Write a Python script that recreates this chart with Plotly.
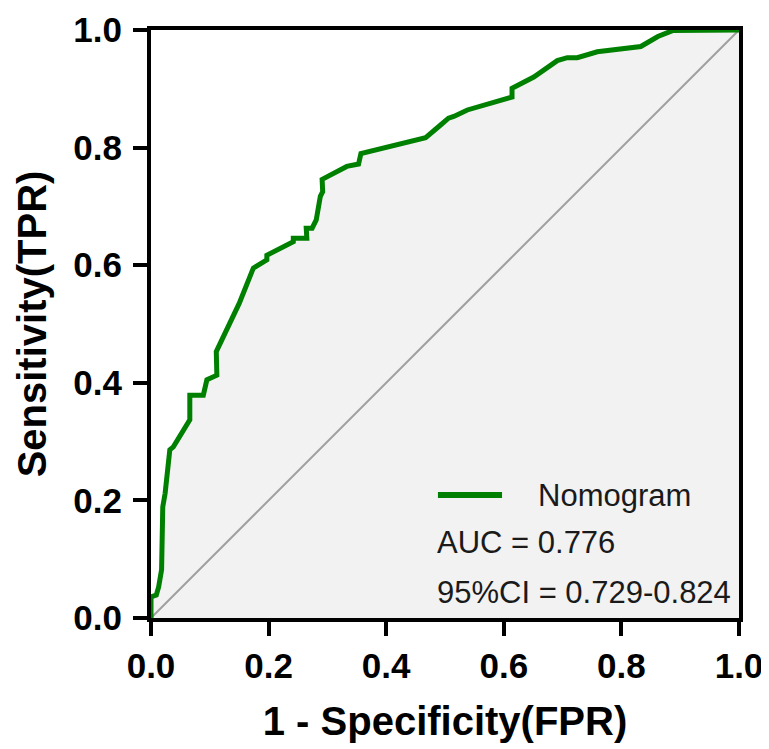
import plotly.graph_objects as go

# ROC curve
fpr = [0, 0, 0.009, 0.013, 0.018, 0.020, 0.024, 0.032, 0.038, 0.066, 0.066, 0.089, 0.095,
       0.112, 0.111, 0.118, 0.150, 0.174, 0.197, 0.197, 0.242, 0.242, 0.265, 0.264, 0.274,
       0.281, 0.285, 0.288, 0.292, 0.291, 0.333, 0.353, 0.357, 0.467, 0.492, 0.506, 0.515,
       0.538, 0.614, 0.614, 0.651, 0.691, 0.708, 0.725, 0.759, 0.833, 0.862, 0.887, 1.0]
tpr = [0, 0.036, 0.039, 0.053, 0.082, 0.189, 0.212, 0.286, 0.291, 0.337, 0.379, 0.379, 0.405,
       0.413, 0.453, 0.467, 0.535, 0.595, 0.609, 0.617, 0.640, 0.646, 0.646, 0.663, 0.663,
       0.677, 0.700, 0.717, 0.725, 0.746, 0.768, 0.772, 0.790, 0.817, 0.838, 0.850, 0.853,
       0.864, 0.886, 0.901, 0.920, 0.948, 0.953, 0.953, 0.963, 0.972, 0.989, 0.999, 1.0]
ref_x = [0, 1]
ref_y = [0, 1]
series_name = "Nomogram"
auc_text = "AUC = 0.776"
ci_text = "95%CI = 0.729-0.824"
tick_vals = [0, 0.2, 0.4, 0.6, 0.8, 1.0]
tick_text = ["0.0", "0.2", "0.4", "0.6", "0.8", "1.0"]

GREEN = "#008000"
FONT = "Liberation Sans, Arial, sans-serif"
TEXT_COLOR = "#1a1a1a"

fig = go.Figure()
# shaded area under curve
fig.add_trace(go.Scatter(x=fpr, y=tpr, mode="lines", fill="tozeroy",
                         fillcolor="#f2f2f2", line=dict(width=0, color="#f2f2f2"),
                         showlegend=False, hoverinfo="skip"))
# reference diagonal
fig.add_trace(go.Scatter(x=ref_x, y=ref_y, mode="lines",
                         line=dict(color="#a0a0a0", width=2), showlegend=False))
# ROC line
fig.add_trace(go.Scatter(x=fpr, y=tpr, mode="lines", name=series_name,
                         line=dict(color=GREEN, width=5), showlegend=False))

axis_common = dict(
    range=[0, 1], tickmode="array", tickvals=tick_vals, ticktext=tick_text,
    showline=True, linecolor="black", linewidth=4, mirror=True,
    ticks="outside", ticklen=14, tickwidth=4, tickcolor="black",
    showgrid=False, zeroline=False, ticklabeloverflow="allow",
    tickfont=dict(family=FONT, size=35, color="black", weight="bold"),
)

# page body has an 8px margin: margins compensate so the plot sits where the reference has it
fig.update_layout(
    width=769, height=749,
    margin=dict(l=143, r=38, t=22, b=139),
    paper_bgcolor="white", plot_bgcolor="white",
    xaxis=dict(**axis_common, automargin=True,
               title=dict(text="1 - Specificity(FPR)", standoff=24,
                          font=dict(family=FONT, size=40, color="black", weight="bold"))),
    yaxis=dict(**axis_common, automargin=False, ticklabelstandoff=4,
               title=dict(text="Sensitivity(TPR)",
                          font=dict(family=FONT, size=40, color="black", weight="bold"))),
    showlegend=False,
)

# legend key (line sample + series name)
fig.add_shape(type="line", xref="x", yref="y", x0=0.488, x1=0.597, y0=0.209, y1=0.209,
              line=dict(color=GREEN, width=6))
fig.add_annotation(x=0.655, y=0.209, xref="x", yref="y", text=series_name, showarrow=False,
                   xanchor="left", yanchor="middle",
                   font=dict(family=FONT, size=31, color=TEXT_COLOR))
fig.add_annotation(x=0.483, y=0.128, xref="x", yref="y", text=auc_text, showarrow=False,
                   xanchor="left", yanchor="middle",
                   font=dict(family=FONT, size=31, color=TEXT_COLOR))
fig.add_annotation(x=0.483, y=0.043, xref="x", yref="y", text=ci_text, showarrow=False,
                   xanchor="left", yanchor="middle",
                   font=dict(family=FONT, size=31, color=TEXT_COLOR))

fig.write_html("out.html")
